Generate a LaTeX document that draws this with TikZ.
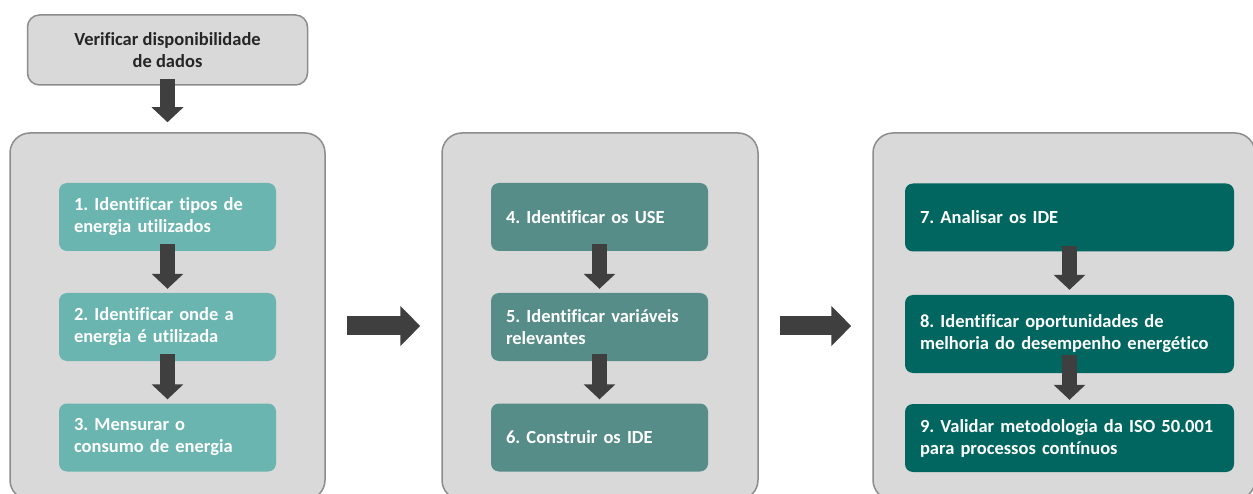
\documentclass[tikz,border=0pt]{standalone}
\usepackage{fontspec}
\setmainfont{Carlito}[Ligatures=NoCommon]
\usetikzlibrary{arrows.meta}
\definecolor{cinzafundo}{HTML}{D9D9D9}
\definecolor{cinzaborda}{HTML}{8C8C8C}
\definecolor{verde1}{HTML}{6AB5AF}
\definecolor{verde2}{HTML}{568D88}
\definecolor{verde3}{HTML}{00665F}
\definecolor{setacor}{HTML}{3F3F3F}
\frenchspacing

\begin{document}
\begin{tikzpicture}[x=1pt, y=-1pt, font=\bfseries\fontsize{18.5}{22}\selectfont]
 \tikzstyle{painel}=[rectangle, draw=cinzaborda, fill=cinzafundo, line width=1.5pt, rounded corners=20pt]
 \tikzstyle{etapa}=[rectangle, rounded corners=8pt, text=white, align=left, inner xsep=15pt, inner ysep=0pt, minimum height=68pt, text width=187pt]
 \tikzstyle{setav}=[line width=15pt, draw=setacor, -{Triangle[width=31pt, length=15pt]}, shorten <=-7pt, shorten >=4pt]
 \tikzstyle{setah}=[line width=19pt, draw=setacor, -{Triangle[width=39pt, length=20pt]}, shorten <=21pt, shorten >=21pt]
 %
 \clip (0,0) rectangle (1253,494);
 %
 \node[painel, rounded corners=12pt, minimum width=280pt, minimum height=70pt, text=black!85, align=center] (V) at (167.5, 50) {Verificar disponibilidade\\de dados};
 %
 \node[painel, minimum width=315pt, minimum height=367pt] (PA) at (167.5, 316.5) {};
 \node[painel, minimum width=316pt, minimum height=367pt] (PB) at (600, 316.5) {};
 \node[painel, minimum width=382pt, minimum height=367pt] (PC) at (1064, 316.5) {};
 %
 \node[etapa, fill=verde1] (E1) at (167.5, 217) {1. Identificar tipos de\\energia utilizados};
 \node[etapa, fill=verde1] (E2) at (167.5, 327) {2. Identificar onde a\\energia é utilizada};
 \node[etapa, fill=verde1] (E3) at (167.5, 437.5) {3. Mensurar o\\consumo de energia};
 %
 \node[etapa, fill=verde2] (E4) at (599.5, 217) {4. Identificar os USE};
 \node[etapa, fill=verde2] (E5) at (599.5, 327) {5. Identificar variáveis\\relevantes};
 \node[etapa, fill=verde2] (E6) at (599.5, 437.5) {6. Construir os IDE};
 %
 \node[etapa, fill=verde3, text width=299pt] (E7) at (1069.5, 217.5) {7. Analisar os IDE};
 \node[etapa, fill=verde3, text width=299pt, minimum height=78pt] (E8) at (1069.5, 334) {8. Identificar oportunidades de\\melhoria do desempenho energético};
 \node[etapa, fill=verde3, text width=299pt] (E9) at (1069.5, 438) {9. Validar metodologia da ISO 50.001\\para processos contínuos};
 %%
 \draw[setav, shorten >=10pt] (V.south) -- (PA.north);
 \draw[setav] (E1) -- (E2);
 \draw[setav] (E2) -- (E3);
 \draw[setav] (E4) -- (E5);
 \draw[setav] (E5) -- (E6);
 \draw[setav, shorten <=-6pt, shorten >=5pt] (E7) -- (E8);
 \draw[setav, shorten <=-18pt] (E8) -- (E9);
 \draw[setah] ([yshift=-9.5pt]PA.east) -- ([yshift=-9.5pt]PB.west);
 \draw[setah] ([yshift=-9.5pt]PB.east) -- ([yshift=-9.5pt]PC.west);
\end{tikzpicture}
\end{document}
